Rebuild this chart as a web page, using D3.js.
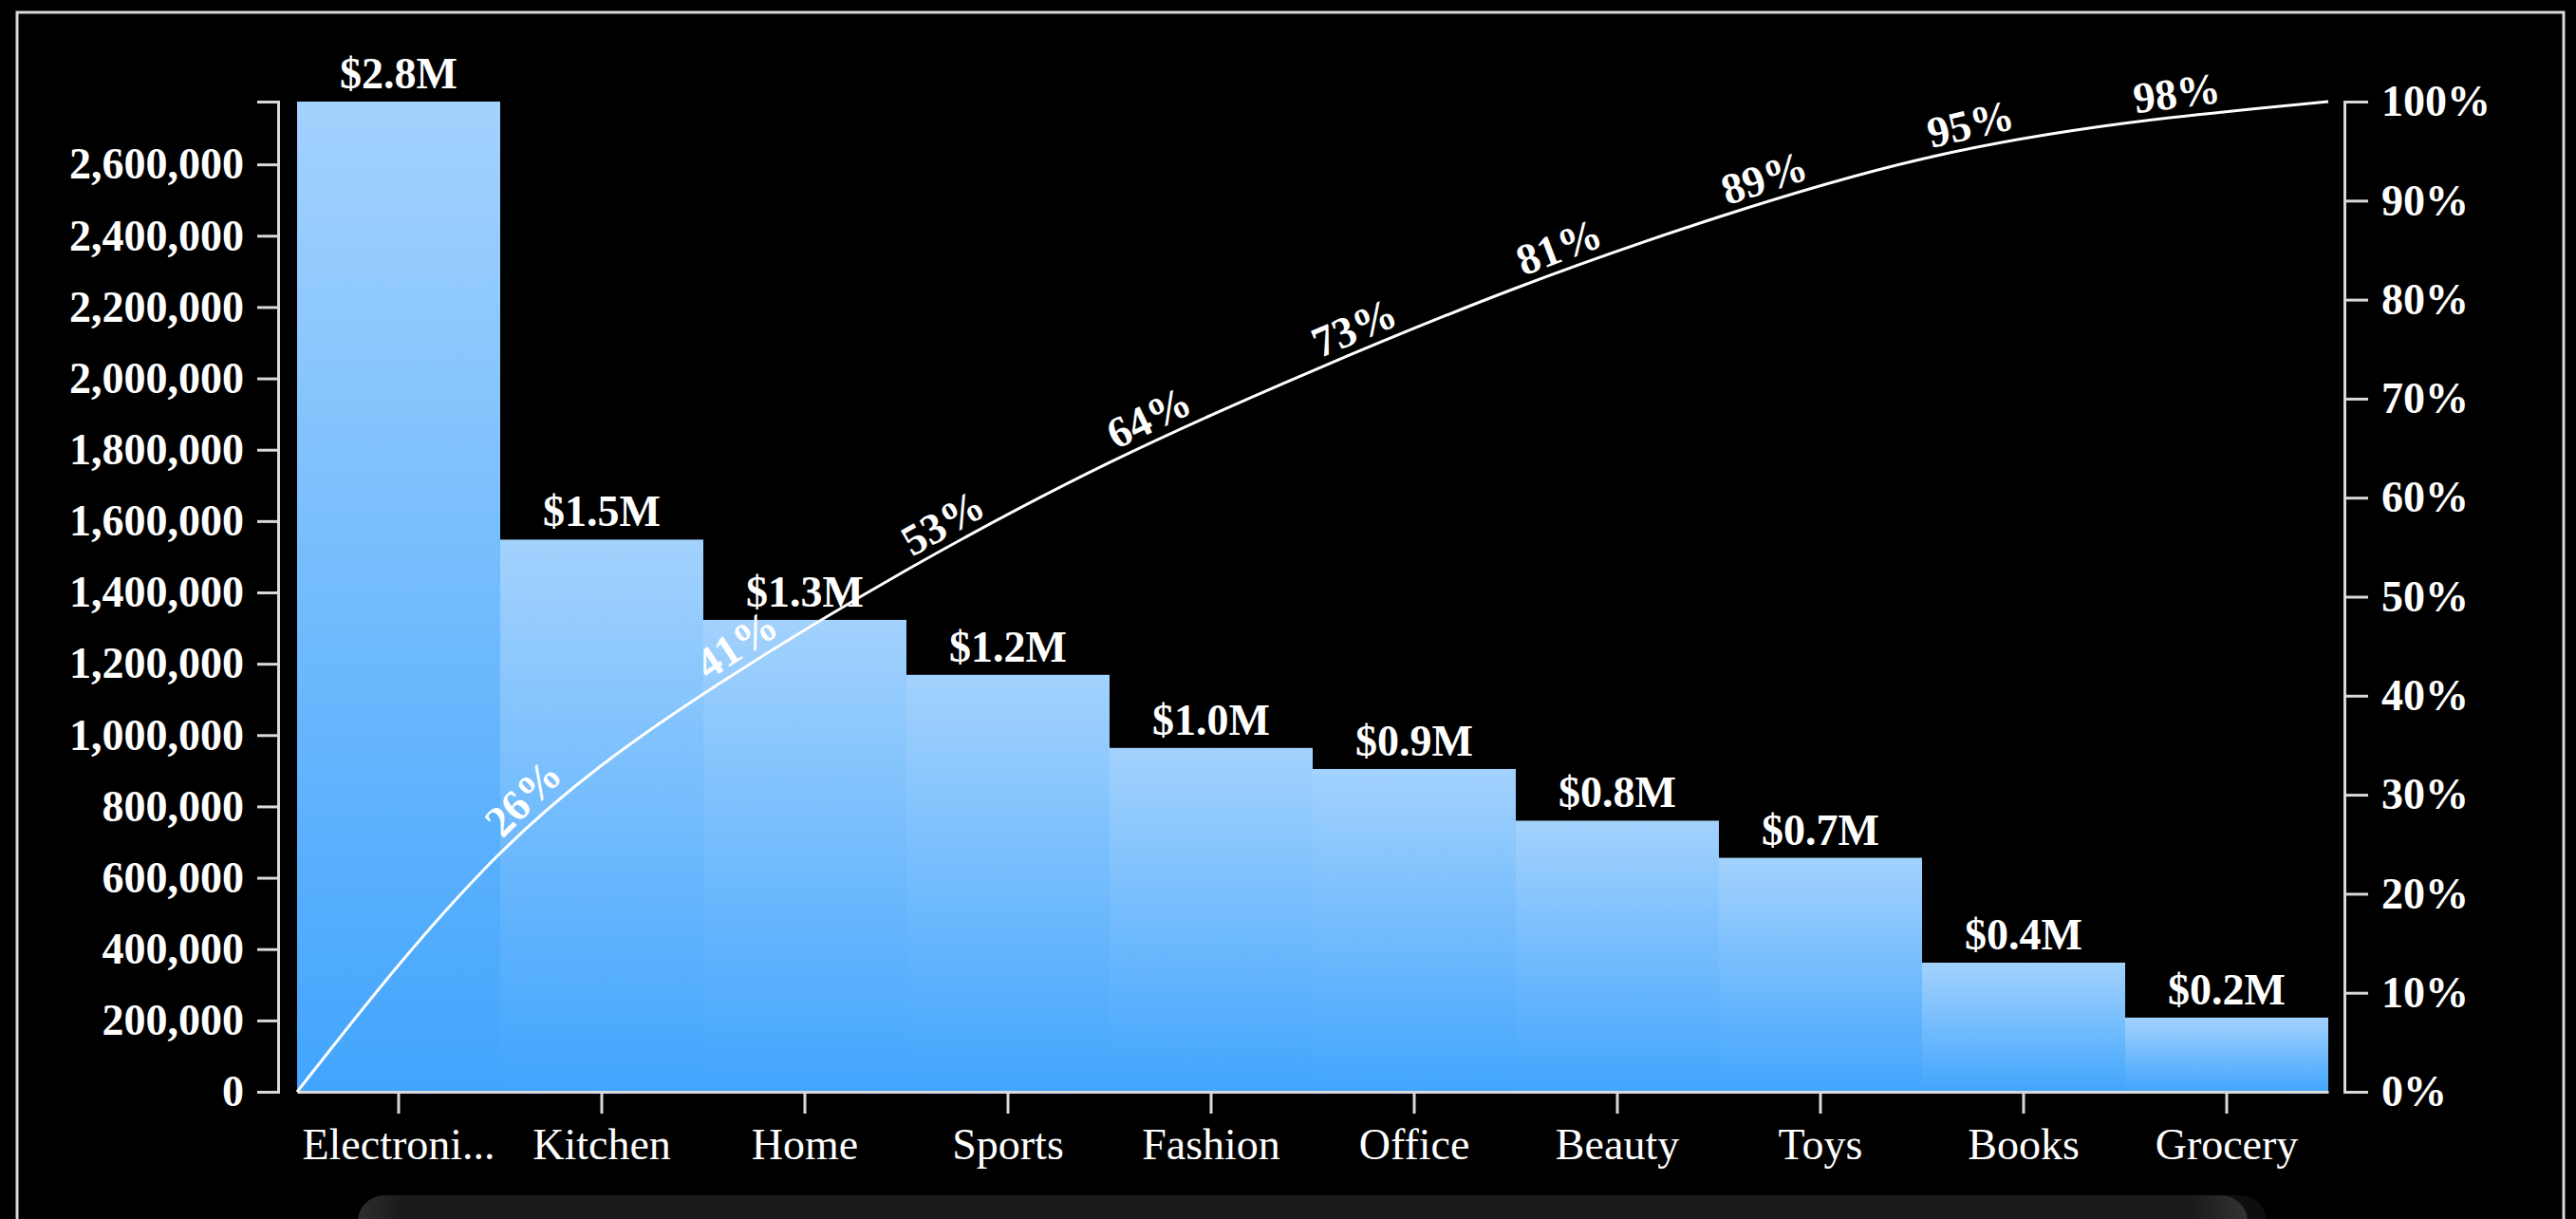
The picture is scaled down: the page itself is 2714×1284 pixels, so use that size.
<!DOCTYPE html>
<html>
<head>
<meta charset="utf-8">
<script src="https://cdn.jsdelivr.net/npm/d3@7"></script>
<style>
body { margin: 0; background: #000; overflow: hidden; }
svg { display: block; font-family: "Liberation Serif", "Times New Roman", serif; }
</style>
</head>
<body>
<script>
// Daten
var categories = ["Electronics", "Kitchen", "Home", "Sports", "Fashion", "Office", "Beauty", "Toys", "Books", "Grocery"];
var revenue = [2776000, 1548000, 1323000, 1169000, 964000, 905000, 760000, 656000, 362000, 208000];
var revenueTicks = [0, 200000, 400000, 600000, 800000, 1000000, 1200000, 1400000, 1600000, 1800000, 2000000, 2200000, 2400000, 2600000];
var percentTicks = [0, 0.1, 0.2, 0.3, 0.4, 0.5, 0.6, 0.7, 0.8, 0.9, 1];

var W = 2714, H = 1284;
var margin = {top: 107, right: 261, bottom: 134, left: 313}
    , width = W - margin.left - margin.right
    , height = H - margin.top - margin.bottom;

var svg = d3.select("body").append("svg")
    .attr("width", W)
    .attr("height", H);

var defs = svg.append("defs");
var grad = defs.append("linearGradient").attr("id", "barGrad")
    .attr("x1", 0).attr("y1", 0).attr("x2", 0).attr("y2", 1);
grad.append("stop").attr("offset", "0%").attr("stop-color", "#a3d2fd");
grad.append("stop").attr("offset", "100%").attr("stop-color", "#42a5fd");

var barGrad = defs.append("linearGradient").attr("id", "scrollGrad")
    .attr("x1", 0).attr("y1", 0).attr("x2", 1).attr("y2", 0);
barGrad.append("stop").attr("offset", "0%").attr("stop-color", "#2e2e2e");
barGrad.append("stop").attr("offset", "2.5%").attr("stop-color", "#191919");
barGrad.append("stop").attr("offset", "97%").attr("stop-color", "#1a1a1a");
barGrad.append("stop").attr("offset", "100%").attr("stop-color", "#333");

//Rahmen
svg.append("rect")
    .attr("x", 18).attr("y", 13)
    .attr("width", 2683).attr("height", 1400)
    .attr("fill", "none")
    .attr("stroke", "#d9d9d9")
    .attr("stroke-width", 3);

//Scrollbalken unten
svg.append("rect")
    .attr("x", 377).attr("y", 1259).attr("width", 2011).attr("height", 70).attr("rx", 28)
    .attr("fill", "#0e0e0e");
svg.append("rect")
    .attr("x", 377).attr("y", 1259).attr("width", 1991).attr("height", 70).attr("rx", 28)
    .attr("fill", "url(#scrollGrad)");

var g = svg.append("g")
    .attr("transform", "translate(" + margin.left + "," + margin.top + ")");

var xScale = d3.scaleBand().domain(categories).range([0, width]).padding(0);
var xLin = d3.scaleLinear().domain([0, categories.length]).range([0, width]);
var yScale = d3.scaleLinear().domain([0, d3.max(revenue)]).range([height, 0]);
var yPct = d3.scaleLinear().domain([0, 1]).range([height, 0]);

//Balken
g.selectAll("rect.bar")
    .data(revenue)
    .enter().append("rect")
    .attr("class", "bar")
    .attr("x", (d, i) => xScale(categories[i]))
    .attr("width", xScale.bandwidth())
    .attr("y", d => yScale(d))
    .attr("height", d => height - yScale(d))
    .attr("fill", "url(#barGrad)");

//Werte über den Balken
g.selectAll("text.val")
    .data(revenue)
    .enter().append("text")
    .attr("class", "val")
    .attr("x", (d, i) => xScale(categories[i]) + xScale.bandwidth() / 2)
    .attr("y", d => yScale(d) - 14)
    .attr("text-anchor", "middle")
    .attr("fill", "#fff")
    .attr("font-weight", "bold")
    .attr("font-size", 46)
    .text(d => "$" + (d / 1e6).toFixed(1) + "M");

function styleAxis(sel, bold) {
    sel.select(".domain").attr("stroke", "#d9d9d9").attr("stroke-width", 3);
    sel.selectAll(".tick line").attr("stroke", "#d9d9d9").attr("stroke-width", 3);
    sel.selectAll(".tick text")
        .attr("fill", "#fff")
        .attr("font-size", 46)
        .attr("font-weight", bold ? "bold" : "normal")
        .attr("font-family", "Liberation Serif");
}

//X Achse
var xAxis = g.append("g")
    .attr("transform", "translate(0," + height + ")")
    .call(d3.axisBottom(xScale).tickSizeInner(23).tickSizeOuter(0).tickPadding(15)
        .tickFormat(d => d.length > 10 ? d.slice(0, 9) + "..." : d));
styleAxis(xAxis, false);

//Y Achse links
var yAxis = g.append("g")
    .attr("transform", "translate(-20,0)")
    .call(d3.axisLeft(yScale).tickValues(revenueTicks).tickSize(22).tickPadding(14)
        .tickFormat(d3.format(",")));
styleAxis(yAxis, true);

//Y Achse rechts
var pAxis = g.append("g")
    .attr("transform", "translate(" + (width + 17) + ",0)")
    .call(d3.axisRight(yPct).tickValues(percentTicks).tickSize(25).tickPadding(14)
        .tickFormat(d3.format(".0%")));
styleAxis(pAxis, true);

//Kumulierte Linie
var total = d3.sum(revenue);
var cum = [0].concat(Array.from(d3.cumsum(revenue), v => v / total));

var line = d3.line()
    .x((d, i) => xLin(i))
    .y(d => yPct(d))
    .curve(d3.curveBasis);

var path = g.append("path")
    .datum(cum)
    .attr("d", line)
    .attr("fill", "none")
    .attr("stroke", "#fff")
    .attr("stroke-width", 3);

//Prozent-Labels entlang der Linie
var node = path.node();
var len = node.getTotalLength();
function lengthAtX(px) {
    var lo = 0, hi = len;
    for (var k = 0; k < 40; k++) {
        var mid = (lo + hi) / 2;
        if (node.getPointAtLength(mid).x < px) lo = mid; else hi = mid;
    }
    return lo;
}

cum.forEach(function(p, i) {
    if (i === 0 || i === cum.length - 1) return;
    var l = lengthAtX(xLin(i));
    var a = node.getPointAtLength(Math.max(0, l - 4));
    var b = node.getPointAtLength(Math.min(len, l + 4));
    var pt = node.getPointAtLength(l);
    var ang = Math.atan2(b.y - a.y, b.x - a.x) * 180 / Math.PI;
    g.append("text")
        .attr("transform", "translate(" + pt.x + "," + pt.y + ") rotate(" + ang + ")")
        .attr("dx", 12)
        .attr("dy", -9)
        .attr("fill", "#fff")
        .attr("font-weight", "bold")
        .attr("font-size", 46)
        .text(d3.format(".0%")(p));
});
</script>
</body>
</html>
